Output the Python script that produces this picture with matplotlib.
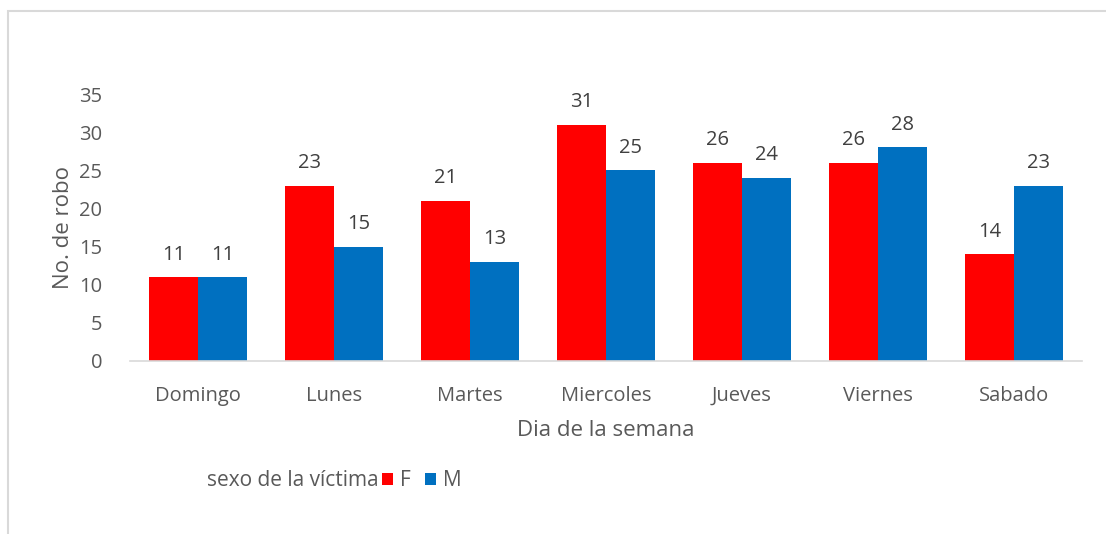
import numpy as np
import matplotlib.pyplot as plt
from matplotlib.patches import Rectangle

dias = ['Domingo', 'Lunes', 'Martes', 'Miercoles', 'Jueves', 'Viernes', 'Sabado']
fem = [11, 23, 21, 31, 26, 26, 14]
masc = [11, 15, 13, 25, 24, 28, 23]

plt.rcParams['font.family'] = ['Open Sans', 'DejaVu Sans']
gris = '#595959'

fig = plt.figure(figsize=(11.06, 5.34), dpi=100)
# borde gris del area del grafico
fig.patches.append(Rectangle((8/1106, -0.1), 1.2, 1 - 11/534 + 0.1, transform=fig.transFigure,
                             fill=False, edgecolor='#d9d9d9', linewidth=1.5))

ax = fig.add_axes([130/1106, 1 - 361/534, 952/1106, (361 - 94)/534])
x = np.arange(len(dias))
w = 0.36
b1 = ax.bar(x - w/2, fem, w, color='#ff0000', label='F')
b2 = ax.bar(x + w/2, masc, w, color='#0070c0', label='M')

for bars in (b1, b2):
    for r in bars:
        ax.annotate(str(int(r.get_height())), (r.get_x() + r.get_width()/2, r.get_height()),
                    xytext=(0, 9), textcoords='offset points', ha='center', va='bottom',
                    fontsize=14.5, color='#404040', annotation_clip=False)

ax.set_xlim(-0.5, len(dias) - 0.5)
ax.set_ylim(0, 35)
ax.set_yticks(range(0, 36, 5))
ax.set_xticks(x)
ax.set_xticklabels(dias)
ax.tick_params(length=0, labelsize=14.5, colors=gris)
ax.tick_params(axis='x', pad=18)
ax.tick_params(axis='y', pad=20)
for s in ['top', 'right', 'left']:
    ax.spines[s].set_visible(False)
ax.spines['bottom'].set_color('#d9d9d9')
ax.spines['bottom'].set_linewidth(1.2)

ax.set_ylabel('No. de robo', fontsize=16, color=gris, labelpad=4)
ax.set_xlabel('Dia de la semana', fontsize=16, color=gris, labelpad=10)

fig.text(207/1106, 1 - 481/534, 'sexo de la víctima', fontsize=15, color=gris,
         ha='left', va='center')
leg = fig.legend(handles=[b1, b2], labels=['F', 'M'], loc='center left',
                 bbox_to_anchor=(382/1106, 1 - 481/534), ncol=2, frameon=False,
                 fontsize=15, handlelength=0.55, handleheight=0.55, handletextpad=0.3,
                 columnspacing=0.7, borderpad=0, borderaxespad=0)
for t in leg.get_texts():
    t.set_color(gris)

fig.savefig('out.png', dpi=100)
